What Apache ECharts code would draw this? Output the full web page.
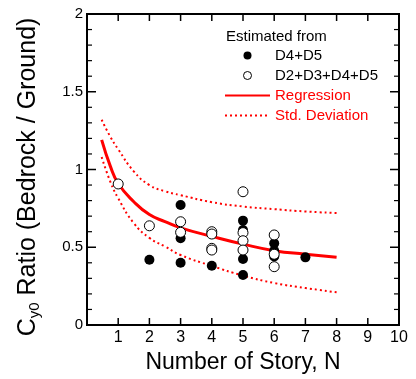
<!DOCTYPE html>
<html>
<head>
<meta charset="utf-8">
<script src="https://cdn.jsdelivr.net/npm/echarts@6/dist/echarts.min.js"></script>
<style>
  html, body { margin: 0; padding: 0; background: #fff; }
  #chart { width: 416px; height: 379px; }
</style>
</head>
<body>
<div id="chart"></div>
<script>
// points: [N, ratio]
var filledPts = [
  [2, 0.42],
  [3, 0.772], [3, 0.558], [3, 0.40],
  [4, 0.381],
  [5, 0.671], [5, 0.611], [5, 0.424], [5, 0.322],
  [6, 0.525], [6, 0.478], [6, 0.44],
  [7, 0.435]
]
var openPts = [
  [1, 0.907],
  [2, 0.638],
  [3, 0.664], [3, 0.596],
  [4, 0.60], [4, 0.585], [4, 0.493], [4, 0.482],
  [5, 0.857], [5, 0.594], [5, 0.542], [5, 0.482],
  [6, 0.579], [6, 0.455], [6, 0.375]
]
// curves, sampled by eye
var curveX = [0.47, 0.75, 1, 1.5, 2, 2.5, 3, 4, 5, 6, 7, 8]
var regY = [1.19, 1.02, 0.91, 0.793, 0.71, 0.665, 0.625, 0.57, 0.52, 0.478, 0.455, 0.435]
var upperY = [1.32, 1.21, 1.13, 0.988, 0.9, 0.86, 0.835, 0.79, 0.762, 0.745, 0.73, 0.72]
var lowerY = [1.08, 0.92, 0.815, 0.655, 0.56, 0.505, 0.45, 0.38, 0.318, 0.27, 0.238, 0.21]

// tick positions of the frame
var xTickValues = [1, 2, 3, 4, 5, 6, 7, 8, 9]
var yTickValues = [0.5, 1, 1.5]
var yMinorValues = [0.1, 0.2, 0.3, 0.4, 0.6, 0.7, 0.8, 0.9, 1.1, 1.2, 1.3, 1.4, 1.6, 1.7, 1.8, 1.9]

var legendNames = ['D4+D5', 'D2+D3+D4+D5', 'Regression', 'Std. Deviation']

var FONT = '"Liberation Sans", Arial, sans-serif'
var RED = '#ff0000'
var X_MIN = 0, X_MAX = 10, X_STEP = 1
var Y_MIN = 0, Y_MAX = 2, Y_STEP = 0.5

function pairs (xs, ys) {
  return xs.map(function (x, i) { return [x, ys[i]] })
}

function tickLine (x1, y1, x2, y2, w) {
  return {
    type: 'line',
    shape: { x1: x1, y1: y1, x2: x2, y2: y2 },
    style: { stroke: '#000', lineWidth: w }
  }
}

// inward ticks on both opposite sides of the frame, placed through the axes
function tickSeries (values, vertical, len, width) {
  return {
    type: 'custom',
    silent: true,
    clip: false,
    z: 6,
    data: values.map(function (v) { return vertical ? [v, Y_MIN] : [X_MIN, v] }),
    renderItem: function (params, api) {
      var a, b
      if (vertical) {
        a = api.coord([api.value(0), Y_MIN])
        b = api.coord([api.value(0), Y_MAX])
        return { type: 'group', children: [
          tickLine(a[0], a[1], a[0], a[1] - len, width),
          tickLine(b[0], b[1], b[0], b[1] + len, width)
        ] }
      }
      a = api.coord([X_MIN, api.value(1)])
      b = api.coord([X_MAX, api.value(1)])
      return { type: 'group', children: [
        tickLine(a[0], a[1], a[0] + len, a[1], width),
        tickLine(b[0], b[1], b[0] - len, b[1], width)
      ] }
    }
  }
}

var noMark = { color: 'rgba(0,0,0,0)', borderColor: 'rgba(0,0,0,0)', borderWidth: 0 }

var chart = echarts.init(document.getElementById('chart'))

var option = {
  animation: false,
  backgroundColor: '#fff',
  grid: {
    left: 87, right: 17, top: 14, bottom: 54,
    show: true,
    borderColor: '#000',
    borderWidth: 2
  },
  title: {
    text: 'Estimated from',
    left: 226,
    top: 29,
    padding: 0,
    textStyle: { fontFamily: FONT, fontSize: 15, fontWeight: 'normal', color: '#000' }
  },
  legend: {
    orient: 'vertical',
    left: 224,
    top: 48,
    padding: 0,
    itemWidth: 45,
    itemHeight: 8,
    itemGap: 5,
    selectedMode: false,
    textStyle: { fontFamily: FONT, fontSize: 15 },
    data: [
      { name: legendNames[0], textStyle: { color: '#000' } },
      { name: legendNames[1], textStyle: { color: '#000' }, itemStyle: { borderWidth: 1 } },
      { name: legendNames[2], textStyle: { color: RED }, itemStyle: noMark },
      { name: legendNames[3], textStyle: { color: RED }, itemStyle: noMark }
    ]
  },
  graphic: [{
    type: 'text',
    x: 28,
    y: 177,
    rotation: Math.PI / 2,
    style: {
      text: '{m|C}{s|y0}{m| Ratio (Bedrock / Ground)}',
      align: 'center',
      verticalAlign: 'middle',
      fill: '#000',
      rich: {
        m: { fontFamily: FONT, fontSize: 25, fill: '#000' },
        s: { fontFamily: FONT, fontSize: 15, fill: '#000', padding: [14, 0, 0, 0] }
      }
    }
  }],
  xAxis: {
    type: 'value',
    min: X_MIN,
    max: X_MAX,
    interval: X_STEP,
    name: 'Number of Story, N',
    nameLocation: 'middle',
    nameGap: 20,
    nameTextStyle: { fontFamily: FONT, fontSize: 23, color: '#000' },
    axisLine: { show: true, onZero: false, lineStyle: { color: '#000', width: 2 } },
    axisTick: { show: false },
    axisLabel: {
      margin: 5,
      fontFamily: FONT,
      fontSize: 16,
      color: '#000',
      formatter: function (v) { return v === 0 ? '' : v }
    },
    splitLine: { show: false }
  },
  yAxis: {
    type: 'value',
    min: Y_MIN,
    max: Y_MAX,
    interval: Y_STEP,
    axisLine: { show: true, onZero: false, lineStyle: { color: '#000', width: 2 } },
    axisTick: { show: false },
    axisLabel: { margin: 4, fontFamily: FONT, fontSize: 15, color: '#000' },
    splitLine: { show: false }
  },
  series: [
    {
      name: legendNames[2],
      type: 'line',
      smooth: true,
      symbol: 'none',
      z: 2,
      lineStyle: { color: RED, width: 3 },
      itemStyle: { color: RED },
      data: pairs(curveX, regY)
    },
    {
      name: legendNames[3],
      type: 'line',
      smooth: true,
      symbol: 'none',
      z: 2,
      lineStyle: { color: RED, width: 2, type: [2, 3] },
      itemStyle: { color: RED },
      data: pairs(curveX, upperY)
    },
    {
      name: legendNames[3],
      type: 'line',
      smooth: true,
      symbol: 'none',
      z: 2,
      lineStyle: { color: RED, width: 2, type: [2, 3] },
      itemStyle: { color: RED },
      data: pairs(curveX, lowerY)
    },
    {
      name: legendNames[0],
      type: 'scatter',
      symbol: 'circle',
      symbolSize: 10,
      z: 3,
      itemStyle: { color: '#000', opacity: 1 },
      data: filledPts
    },
    {
      name: legendNames[1],
      type: 'scatter',
      symbol: 'circle',
      symbolSize: 10,
      z: 4,
      itemStyle: { color: '#fff', borderColor: '#000', borderWidth: 1, opacity: 1 },
      data: openPts
    },
    tickSeries(xTickValues, true, 7, 1.5),
    tickSeries(yTickValues, false, 9, 1.5),
    tickSeries(yMinorValues, false, 5, 1.2)
  ]
}

chart.setOption(option)
window.onresize = chart.resize
</script>
</body>
</html>
